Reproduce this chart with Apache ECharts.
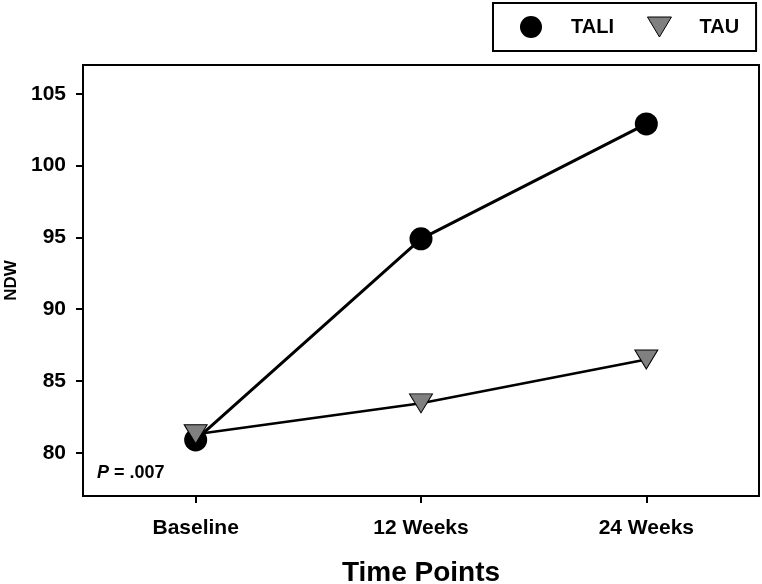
<!DOCTYPE html>
<html>
<head>
<meta charset="utf-8">
<script src="https://cdn.jsdelivr.net/npm/echarts@6/dist/echarts.min.js"></script>
<style>
html,body{margin:0;padding:0;background:#fff;}
#chart{width:762px;height:584px;}
</style>
</head>
<body>
<div id="chart"></div>
<script>
const categories = ['Baseline', '12 Weeks', '24 Weeks'];
const taliValues = [80.9, 94.9, 102.9];
const tauValues = [81.3, 83.45, 86.5];
const yTicks = [80, 85, 90, 95, 100, 105];
const yMin = 77, yMax = 107;

const FONT = '"Liberation Sans", Arial, sans-serif';
const DOWN_TRIANGLE = 'path://M0,0L24,0L12,20Z';
const chart = echarts.init(document.getElementById('chart'), null, {renderer: 'canvas'});
chart.setOption({
  animation: false,
  backgroundColor: '#fff',
  textStyle: {fontFamily: FONT},
  grid: {left: 83, top: 65, right: 3, bottom: 88, show: true, borderColor: '#000', borderWidth: 2,
         backgroundColor: 'transparent', containLabel: false, outerBoundsMode: 'none'},
  legend: {
    left: 493, top: 3,
    padding: [13, 17, 13, 27],
    borderColor: '#000', borderWidth: 2,
    itemWidth: 24, itemHeight: 22, itemGap: 33,
    textStyle: {fontFamily: FONT, fontSize: 20, fontWeight: 'bold', color: '#000', padding: [0, 0, 0, 23]},
    data: [{name: 'TALI', icon: 'circle'}, {name: 'TAU', icon: DOWN_TRIANGLE, itemStyle: {borderColor: '#000', borderWidth: 1}}]
  },
  xAxis: {
    type: 'category',
    data: categories,
    boundaryGap: true,
    name: 'Time Points',
    nameLocation: 'middle',
    nameGap: 63,
    nameTextStyle: {fontFamily: FONT, fontSize: 28, fontWeight: 'bold', color: '#000'},
    axisLine: {show: true, lineStyle: {color: '#000', width: 2}},
    axisTick: {show: true, alignWithLabel: true, length: 7, lineStyle: {color: '#000', width: 2}},
    axisLabel: {fontFamily: FONT, fontSize: 21, fontWeight: 'bold', color: '#000', margin: 22},
    splitLine: {show: false}
  },
  yAxis: {
    type: 'value',
    min: yMin, max: yMax,
    name: 'NDW',
    nameLocation: 'middle',
    nameGap: 63,
    nameRotate: 90,
    nameTextStyle: {fontFamily: FONT, fontSize: 17, fontWeight: 'bold', color: '#000'},
    axisLine: {show: true, lineStyle: {color: '#000', width: 2}},
    axisTick: {show: true, length: 7, customValues: yTicks, lineStyle: {color: '#000', width: 2}},
    axisLabel: {fontFamily: FONT, fontSize: 21, fontWeight: 'bold', color: '#000', margin: 17, customValues: yTicks},
    splitLine: {show: false}
  },
  graphic: [{
    type: 'text',
    left: 97, top: 464,
    style: {
      text: '{i|P} = .007',
      rich: {i: {fontStyle: 'italic', fontWeight: 'bold', fontSize: 18, fontFamily: FONT, fill: '#000'}},
      fontFamily: FONT, fontSize: 18, fontWeight: 'bold', fill: '#000'
    }
  }],
  series: [
    {
      name: 'TALI', type: 'line', data: taliValues,
      symbol: 'circle', symbolSize: 23,
      itemStyle: {color: '#000'},
      lineStyle: {color: '#000', width: 3},
      z: 2
    },
    {
      name: 'TAU', type: 'line', data: tauValues,
      symbol: 'triangle', symbolSize: [23, 19], symbolRotate: 180,
      itemStyle: {color: '#808080', borderColor: '#000', borderWidth: 1},
      lineStyle: {color: '#000', width: 2.5},
      z: 3
    }
  ]
});
</script>
</body>
</html>
